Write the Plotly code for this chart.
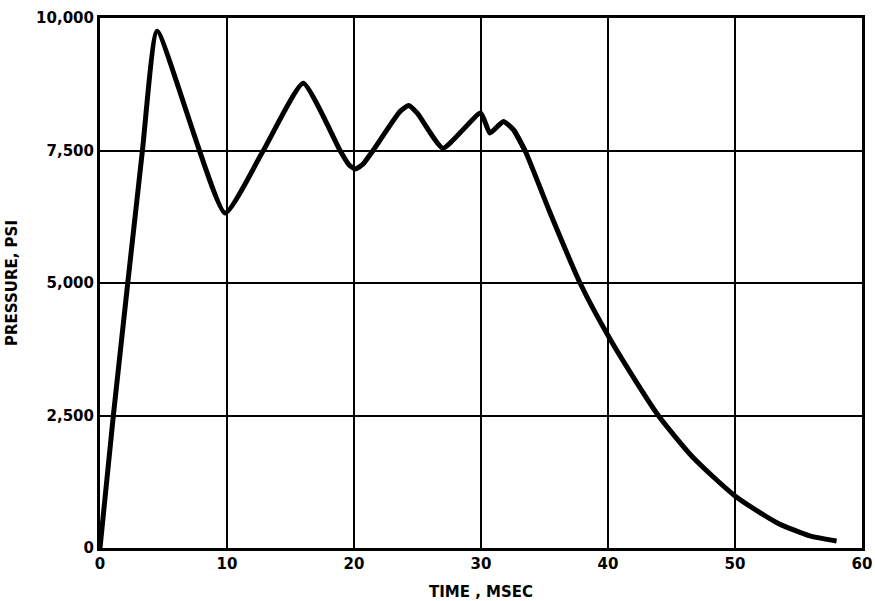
import plotly.graph_objects as go

# Oscillating build-up phase (ms, psi)
rise_time_ms = [0, 1.05, 3.34, 4.5, 9.84, 12.86, 16.0, 18.9, 19.6, 20.1, 20.7,
                21.5, 23.6, 24.3, 25.0, 27.0, 29.97, 30.7, 31.76, 32.6, 33.5]
rise_pressure_psi = [0, 2500, 7500, 9750, 6320, 7500, 8770, 7500, 7230, 7149,
                     7240, 7500, 8230, 8350, 8200, 7545, 8207, 7829, 8048, 7880,
                     7480]

# Decay phase (ms, psi)
decay_time_ms = [32.6, 33.5, 35.43, 37.8, 40.08, 42.26, 43.96, 46.7, 50.0,
                 53.3, 55.9, 58.0]
decay_pressure_psi = [7880, 7480, 6330, 5000, 3975, 3120, 2500, 1707, 983,
                      478, 227, 132]

x_ticks = [0, 10, 20, 30, 40, 50, 60]
x_tick_labels = ["0", "10", "20", "30", "40", "50", "60"]
y_ticks = [0, 2500, 5000, 7500, 10000]
y_tick_labels = ["0", "2,500", "5,000", "7,500", "10,000"]

fig = go.Figure()
fig.add_trace(go.Scatter(
    x=rise_time_ms, y=rise_pressure_psi, mode="lines",
    line=dict(color="black", width=5, shape="spline", smoothing=0.45),
    showlegend=False, hoverinfo="skip",
))
fig.add_trace(go.Scatter(
    x=decay_time_ms, y=decay_pressure_psi, mode="lines",
    line=dict(color="black", width=5, shape="spline", smoothing=0.6),
    showlegend=False, hoverinfo="skip",
))

font_family = "'DejaVu Sans', sans-serif"
fig.update_layout(
    width=875, height=601,
    margin=dict(l=100, r=13, t=18, b=53),
    paper_bgcolor="white", plot_bgcolor="white",
    font=dict(family=font_family, color="black"),
    xaxis=dict(
        range=[0, 60], tickmode="array", tickvals=x_ticks, ticktext=x_tick_labels,
        showgrid=True, gridcolor="black", gridwidth=2,
        showline=True, linecolor="black", linewidth=3, mirror=True,
        zeroline=False, ticks="", ticklen=0, automargin=False,
        tickfont=dict(size=15, family=font_family, weight="bold"),
        title=dict(text="TIME , MSEC",
                   font=dict(size=15, family=font_family, weight="bold")),
    ),
    yaxis=dict(
        range=[0, 10000], tickmode="array", tickvals=y_ticks, ticktext=y_tick_labels,
        showgrid=True, gridcolor="black", gridwidth=2,
        showline=True, linecolor="black", linewidth=3, mirror=True,
        zeroline=False, ticks="", ticklen=0, automargin=False,
        tickfont=dict(size=15, family=font_family, weight="bold"),
        title=dict(text="PRESSURE, PSI",
                   font=dict(size=15, family=font_family, weight="bold")),
    ),
)

fig.write_html("out.html", config={"displayModeBar": False},
               post_script="document.body.style.margin='0';document.body.style.overflow='hidden';")
